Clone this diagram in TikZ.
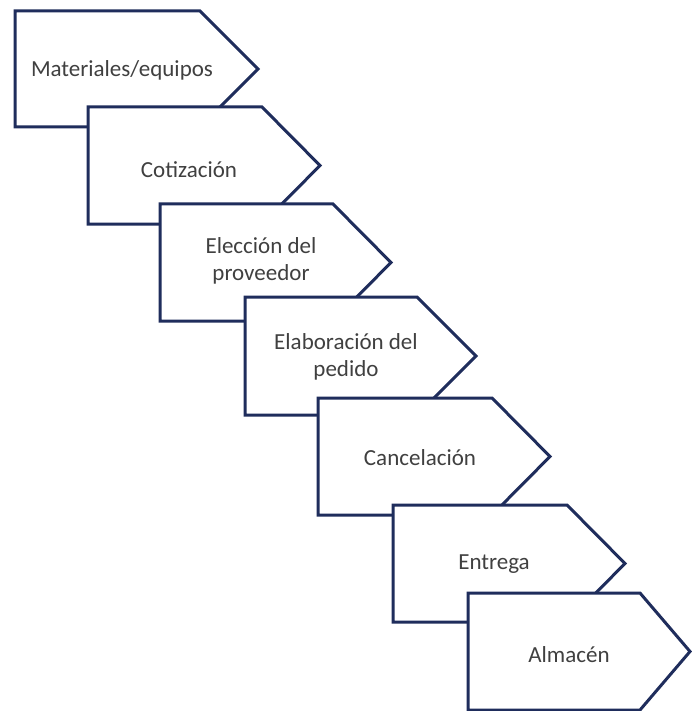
\documentclass[tikz,border=0pt]{standalone}
\usepackage{fontspec}
\setmainfont{Carlito}
\definecolor{edge}{HTML}{1F2D5C}
\definecolor{txt}{HTML}{404040}
\tikzset{
  stepshape/.style={draw=edge, fill=white, line width=3pt, line join=miter},
  steplabel/.style={text=txt, align=center, font=\fontsize{23}{27}\selectfont, inner sep=0pt}
}
\begin{document}
\begin{tikzpicture}[x=1pt,y=-1pt]
\fill[white] (0,0) rectangle (691,711);
\useasboundingbox (0,0) rectangle (691,711);
\foreach \L/\T/\W/\P/\H/\n/\tx/\ty/\txt in {
  15/11/185/58/116/s1/122/70/{Materiales/equipos},
  88/107/174/58/117/s2/189/170/{Cotización},
  160/204/173/58/117/s3/261/261/{Elección del\\proveedor},
  245/297/172/59/118/s4/346/357/{Elaboración del\\pedido},
  318/398/174/58/117/s5/420/458/{Cancelación},
  393/505/174/58/117/s6/494/564/{Entrega},
  468/593/172/50/117/s7/569/655/{Almacén}}{
  \draw[stepshape] (\L,\T) -- ({\L+\W},\T) -- ({\L+\W+\P},{\T+\H/2}) -- ({\L+\W},{\T+\H}) -- (\L,{\T+\H}) -- cycle;
  \node[steplabel] (\n) at (\tx,\ty) {\txt};
}
\end{tikzpicture}
\end{document}
